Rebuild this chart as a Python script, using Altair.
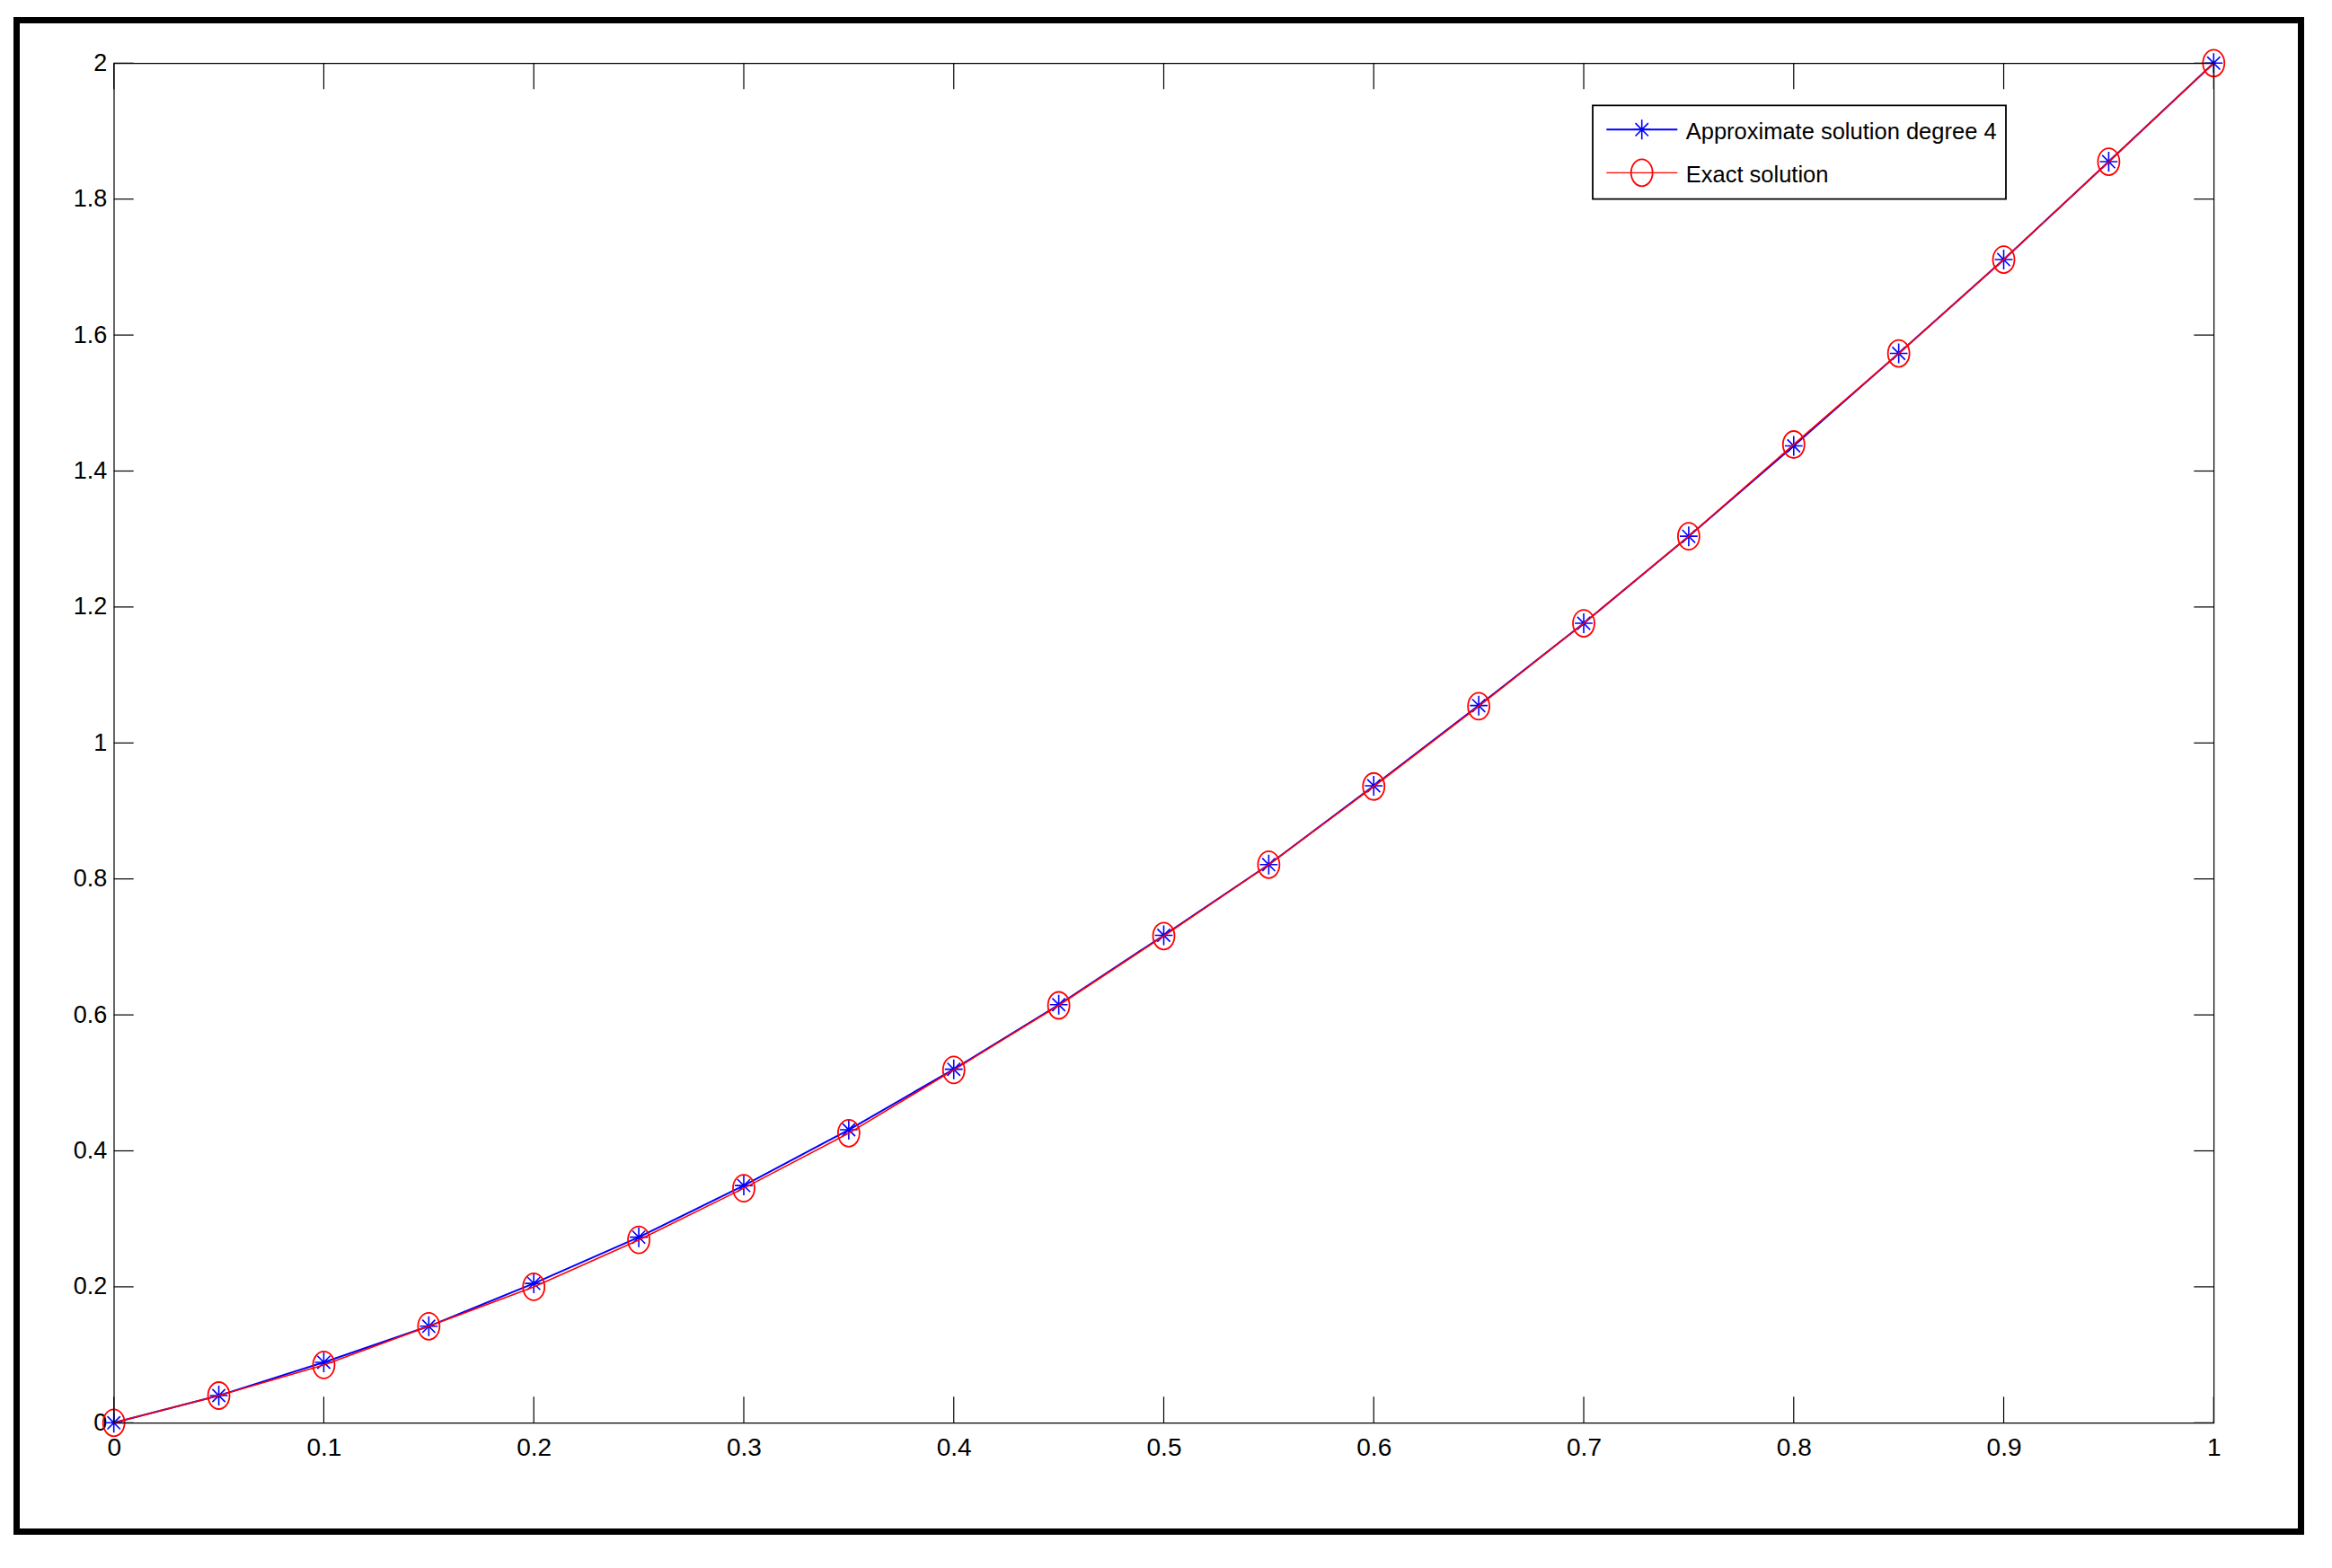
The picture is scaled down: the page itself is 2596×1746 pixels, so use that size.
import altair as alt
import pandas as pd

# ---- data ----
x_vals = [0.0, 0.05, 0.1, 0.15, 0.2, 0.25, 0.3, 0.35, 0.4, 0.45, 0.5,
          0.55, 0.6, 0.65, 0.7, 0.75, 0.8, 0.85, 0.9, 0.95, 1.0]
approx_vals = [0.0, 0.040, 0.089, 0.142, 0.205, 0.273, 0.349, 0.431, 0.520, 0.615, 0.717,
               0.821, 0.937, 1.055, 1.176, 1.304, 1.437, 1.573, 1.711, 1.855, 2.0]
exact_vals = [0.0, 0.040, 0.085, 0.142, 0.200, 0.269, 0.345, 0.426, 0.519, 0.614, 0.716,
              0.821, 0.936, 1.054, 1.176, 1.304, 1.439, 1.573, 1.711, 1.855, 2.0]
series_names = ["Approximate solution degree 4", "Exact solution"]
x_ticks = [0, 0.1, 0.2, 0.3, 0.4, 0.5, 0.6, 0.7, 0.8, 0.9, 1]
y_ticks = [0, 0.2, 0.4, 0.6, 0.8, 1, 1.2, 1.4, 1.6, 1.8, 2]

W, H = 2337.6, 1514
FONT = "Liberation Sans, Arial, sans-serif"

df_a = pd.DataFrame({"x": x_vals, "y": approx_vals})
df_e = pd.DataFrame({"x": x_vals, "y": exact_vals})
df_xt = pd.DataFrame({"x": x_ticks})
df_yt = pd.DataFrame({"y": y_ticks})

xscale = alt.Scale(domain=[0, 1], nice=False, zero=False)
yscale = alt.Scale(domain=[0, 2], nice=False, zero=False)

X = alt.X("x:Q", scale=xscale, axis=alt.Axis(
    values=x_ticks, format="~g", ticks=False, domain=False, grid=False, title=None,
    labelFont=FONT, labelFontSize=28, labelColor="black", labelPadding=14,
    labelFlush=False, labelOverlap=False))
Y = alt.Y("y:Q", scale=yscale, axis=alt.Axis(
    values=y_ticks, format="~g", ticks=False, domain=False, grid=False, title=None,
    labelFont=FONT, labelFontSize=27, labelColor="black", labelPadding=8,
    labelFlush=False, labelOverlap=False))

STAR = "M-0.9,0L0.9,0M0,-1L0,1M-0.65,-0.65L0.65,0.65M-0.65,0.65L0.65,-0.65"
ELLIPSE = "M-0.8,0A0.8,1,0,1,0,0.8,0A0.8,1,0,1,0,-0.8,0Z"

blue_line = alt.Chart(df_a).mark_line(color="#0000FF", strokeWidth=2).encode(x=X, y=Y)
blue_pts = alt.Chart(df_a).mark_point(shape=STAR, size=484, filled=False,
                                      color="#0000FF", strokeWidth=1.6, opacity=1).encode(x=X, y=Y)
red_line = alt.Chart(df_e).mark_line(color="#FF0000", strokeWidth=1.6).encode(x=X, y=Y)
red_pts = alt.Chart(df_e).mark_point(shape=ELLIPSE, size=900, filled=False,
                                     color="#FF0000", strokeWidth=1.8, opacity=1).encode(x=X, y=Y)

# inward ticks on all four sides
xt_bottom = alt.Chart(df_xt).mark_rule(color="black", strokeWidth=1.2).encode(
    x=X, y=alt.value(H), y2=alt.value(H - 29))
xt_top = alt.Chart(df_xt).mark_rule(color="black", strokeWidth=1.2).encode(
    x=X, y=alt.value(0), y2=alt.value(29))
yt_left = alt.Chart(df_yt).mark_rule(color="black", strokeWidth=1.2).encode(
    y=Y, x=alt.value(0), x2=alt.value(22))
yt_right = alt.Chart(df_yt).mark_rule(color="black", strokeWidth=1.2).encode(
    y=Y, x=alt.value(W - 22), x2=alt.value(W))

# outer heavy frame
frame = alt.Chart(pd.DataFrame({"a": [0]})).mark_rect(
    fill=None, stroke="black", strokeWidth=7).encode(
    x=alt.value(-108.2), x2=alt.value(2434.8), y=alt.value(-47.8), y2=alt.value(1635.2))

# legend (manual, MATLAB style)
leg_box = alt.Chart(pd.DataFrame({"a": [0]})).mark_rect(
    fill="white", stroke="black", strokeWidth=1.8).encode(
    x=alt.value(1646.3), x2=alt.value(2106.3), y=alt.value(47.0), y2=alt.value(151.4))
leg_df1 = pd.DataFrame({"label": [series_names[0]]})
leg_df2 = pd.DataFrame({"label": [series_names[1]]})
leg_l1 = alt.Chart(leg_df1).mark_rule(color="#0000FF", strokeWidth=2).encode(
    x=alt.value(1661.6), x2=alt.value(1740.6), y=alt.value(74))
leg_p1 = alt.Chart(leg_df1).mark_point(shape=STAR, size=484, filled=False,
                                       color="#0000FF", strokeWidth=1.6, opacity=1).encode(
    x=alt.value(1701), y=alt.value(74))
leg_t1 = alt.Chart(leg_df1).mark_text(align="left", baseline="alphabetic", font=FONT,
                                      fontSize=25.5, color="black").encode(
    text="label:N", x=alt.value(1750), y=alt.value(84.7))
leg_l2 = alt.Chart(leg_df2).mark_rule(color="#FF0000", strokeWidth=1.2).encode(
    x=alt.value(1661.6), x2=alt.value(1740.6), y=alt.value(122))
leg_p2 = alt.Chart(leg_df2).mark_point(shape=ELLIPSE, size=900, filled=False,
                                       color="#FF0000", strokeWidth=1.8, opacity=1).encode(
    x=alt.value(1701), y=alt.value(122))
leg_t2 = alt.Chart(leg_df2).mark_text(align="left", baseline="alphabetic", font=FONT,
                                      fontSize=25.5, color="black").encode(
    text="label:N", x=alt.value(1750), y=alt.value(133))

chart = alt.layer(
    blue_line, blue_pts, red_line, red_pts,
    xt_bottom, xt_top, yt_left, yt_right,
    frame,
    leg_box, leg_l1, leg_p1, leg_t1, leg_l2, leg_p2, leg_t2,
).properties(
    width=W, height=H,
    padding={"left": 118.7, "top": 62.3, "right": 123.7, "bottom": 153.7},
    autosize=alt.AutoSizeParams(type="none"),
    background="white",
).configure_view(stroke="black", strokeWidth=1.2)

chart.save("out.html", embed_options={"renderer": "svg", "actions": False})
